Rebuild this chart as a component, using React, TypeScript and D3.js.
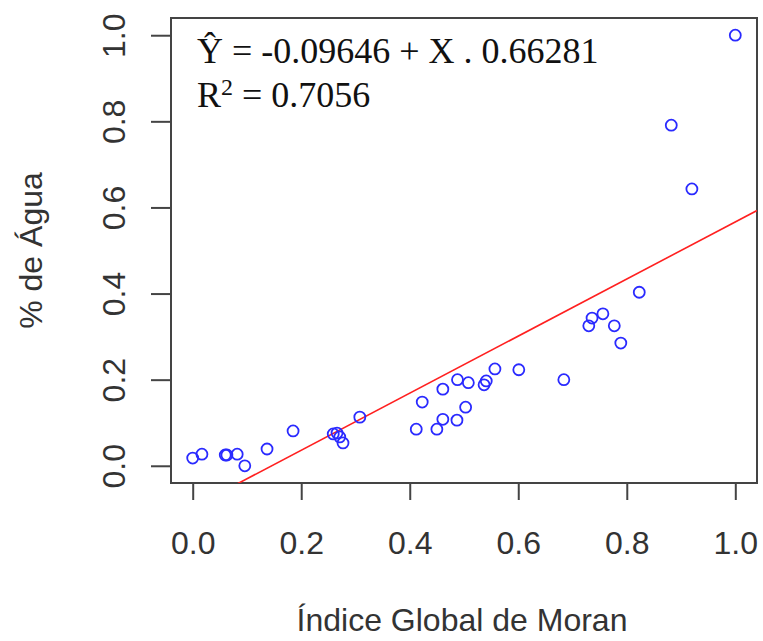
import * as d3 from "d3";
import React, { useRef, useEffect } from "react";

// Índice Global de Moran (x) vs % de Água (y)
const moran = [
  0.0, 0.017, 0.06, 0.063, 0.082, 0.096, 0.137, 0.185, 0.259, 0.266, 0.271,
  0.277, 0.308, 0.412, 0.423, 0.45, 0.461, 0.461, 0.487, 0.488, 0.503, 0.508,
  0.537, 0.541, 0.557, 0.601, 0.684, 0.73, 0.736, 0.756, 0.777, 0.789, 0.823,
  0.882, 0.92, 1.0,
];
const agua = [
  0.018, 0.027, 0.025, 0.025, 0.027, 0.0, 0.039, 0.081, 0.074, 0.076, 0.067,
  0.053, 0.113, 0.085, 0.148, 0.085, 0.178, 0.108, 0.106, 0.2, 0.136, 0.193,
  0.188, 0.197, 0.225, 0.223, 0.2, 0.325, 0.343, 0.353, 0.325, 0.285, 0.403,
  0.791, 0.643, 1.0,
];
const ticks = [0, 0.2, 0.4, 0.6, 0.8, 1.0];
const intercept = -0.09646;
const slope = 0.66281;

const width = 763,
  height = 641;
const box = { left: 171, right: 757, top: 18, bottom: 483 };

function App() {
  const ref = useRef<SVGSVGElement>(null);

  useEffect(() => {
    const svg = d3.select(ref.current);
    svg.selectAll("*").remove();

    const x = d3.scaleLinear().domain([-0.04, 1.04]).range([box.left, box.right]);
    const y = d3.scaleLinear().domain([-0.04, 1.04]).range([box.bottom, box.top]);
    const axisColor = "#444";
    const textColor = "#333";

    // clip for the fitted line
    svg
      .append("clipPath")
      .attr("id", "plotclip")
      .append("rect")
      .attr("x", box.left)
      .attr("y", box.top)
      .attr("width", box.right - box.left)
      .attr("height", box.bottom - box.top);

    // X axis
    const xa = svg
      .append("g")
      .attr("transform", `translate(0,${box.bottom})`)
      .call(d3.axisBottom(x).tickValues(ticks).tickSize(17).tickFormat(d3.format(".1f")));
    xa.select(".domain").remove();
    xa.selectAll("line").attr("stroke", axisColor).attr("stroke-width", 2);
    xa.selectAll("text")
      .attr("y", 0)
      .attr("dy", 0)
      .attr("transform", "translate(0,71)")
      .attr("fill", textColor)
      .style("font-family", "'Liberation Sans', Arial, sans-serif")
      .style("font-size", "32px");

    // Y axis
    const ya = svg
      .append("g")
      .attr("transform", `translate(${box.left},0)`)
      .call(d3.axisLeft(y).tickValues(ticks).tickSize(20).tickFormat(d3.format(".1f")));
    ya.select(".domain").remove();
    ya.selectAll("line").attr("stroke", axisColor).attr("stroke-width", 2);
    ya.selectAll("text")
      .attr("x", 0)
      .attr("dy", 0)
      .attr("text-anchor", "middle")
      .attr("transform", "translate(-46,0) rotate(-90)")
      .attr("fill", textColor)
      .style("font-family", "'Liberation Sans', Arial, sans-serif")
      .style("font-size", "32px");

    // box
    svg
      .append("rect")
      .attr("x", box.left)
      .attr("y", box.top)
      .attr("width", box.right - box.left)
      .attr("height", box.bottom - box.top)
      .attr("fill", "none")
      .attr("stroke", axisColor)
      .attr("stroke-width", 2);

    // fitted line
    const xs = [-0.04, 1.04];
    svg
      .append("path")
      .attr("clip-path", "url(#plotclip)")
      .attr(
        "d",
        d3
          .line<number>()
          .x((d) => x(d))
          .y((d) => y(intercept + slope * d))(xs)
      )
      .attr("stroke", "#ff2020")
      .attr("stroke-width", 1.6)
      .attr("fill", "none");

    // points
    svg
      .selectAll("circle.pt")
      .data(moran)
      .enter()
      .append("circle")
      .attr("class", "pt")
      .attr("cx", (d) => x(d))
      .attr("cy", (d, i) => y(agua[i]))
      .attr("r", 5.5)
      .attr("fill", "none")
      .attr("stroke", "#2a2aff")
      .attr("stroke-width", 1.8);

    // equation
    const eq = svg
      .append("g")
      .attr("fill", "#111")
      .style("font-family", "'Liberation Serif', 'Times New Roman', serif")
      .style("font-size", "36px");
    eq.append("text")
      .attr("x", 197)
      .attr("y", 63)
      .text(`Ŷ = ${intercept} + X . ${slope}`);
    const r2 = eq.append("text").attr("x", 197).attr("y", 107);
    r2.append("tspan").text("R");
    r2.append("tspan").attr("dy", -12).style("font-size", "24px").text("2");
    r2.append("tspan").attr("dy", 12).text(" = 0.7056");

    // axis titles
    svg
      .append("text")
      .attr("x", (box.left + box.right) / 2 - 2)
      .attr("y", 631)
      .attr("text-anchor", "middle")
      .attr("fill", textColor)
      .style("font-family", "'Liberation Sans', Arial, sans-serif")
      .style("font-size", "32px")
      .text("Índice Global de Moran");

    svg
      .append("text")
      .attr("transform", `translate(42,${y(0.5)}) rotate(-90)`)
      .attr("text-anchor", "middle")
      .attr("fill", textColor)
      .style("font-family", "'Liberation Sans', Arial, sans-serif")
      .style("font-size", "32px")
      .text("% de Água");
  }, []);

  return (
    <svg
      ref={ref}
      width={width}
      height={height}
      style={{ position: "absolute", left: 0, top: 0, background: "#fff" }}
    ></svg>
  );
}

export default App;
